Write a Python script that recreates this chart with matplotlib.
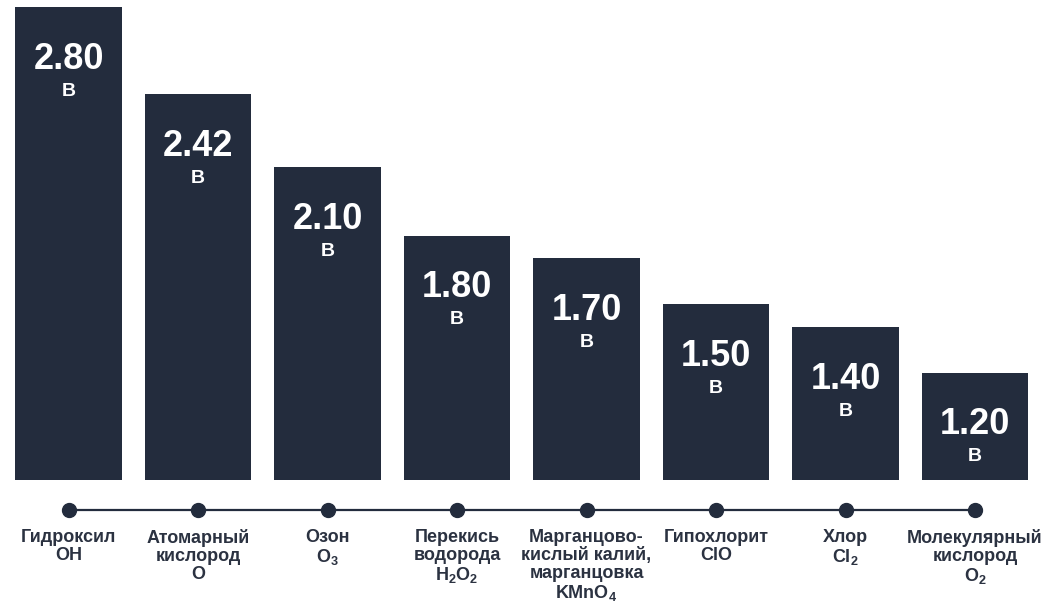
import matplotlib
matplotlib.use("Agg")
import matplotlib.pyplot as plt
import numpy as np

plt.rcParams['font.family'] = ['Liberation Sans', 'DejaVu Sans']
plt.rcParams['mathtext.fontset'] = 'custom'
plt.rcParams['mathtext.rm'] = 'Liberation Sans:bold'
plt.rcParams['mathtext.bf'] = 'Liberation Sans:bold'
plt.rcParams['mathtext.it'] = 'Liberation Sans:bold'
plt.rcParams['mathtext.default'] = 'bf'

categories = ["Гидроксил\nOH", "Атомарный\nкислород\nO", "Озон\nO$_3$",
              "Перекись\nводорода\nH$_2$O$_2$",
              "Марганцово-\nкислый калий,\nмарганцовка\nKMnO$_4$",
              "Гипохлорит\nClO", "Хлор\nCl$_2$", "Молекулярный\nкислород\nO$_2$"]
values = [2.80, 2.42, 2.10, 1.80, 1.70, 1.50, 1.40, 1.20]
unit = "В"

bar_color = '#232c3d'
text_color = '#2b3241'
base = 0.73
top = 2.832

fig = plt.figure(figsize=(10.54, 6.08), dpi=100)
ax = fig.add_axes([0, 128/608, 1, 480/608])
x = np.arange(len(values))
ax.bar(x, np.array(values) - base, bottom=base, width=0.826, color=bar_color)
ax.set_xlim(-0.529, 7.61)
ax.set_ylim(base, top)
ax.axis('off')

for xi, v in zip(x, values):
    ax.annotate(f"{v:.2f}", (xi, v), xytext=(0, -37.5), textcoords='offset points',
                ha='center', va='center', color='white', fontsize=26, fontweight='bold')
    ax.annotate(unit, (xi, v), xytext=(0, -60.5), textcoords='offset points',
                ha='center', va='center', color='white', fontsize=14, fontweight='bold')

tr = ax.get_xaxis_transform()
ax.plot([x[0], x[-1]], [-0.0625, -0.0625], transform=tr, color=bar_color, lw=1.6, clip_on=False, zorder=1)
ax.plot(x, [-0.0625] * len(x), 'o', transform=tr, color=bar_color, ms=10, clip_on=False, zorder=2)

for xi, lab in zip(x, categories):
    ax.text(xi, -0.102, lab, transform=tr, ha='center', va='top', fontsize=13,
            fontweight='bold', color=text_color, linespacing=1.08)

fig.savefig("out.png", dpi=100)
